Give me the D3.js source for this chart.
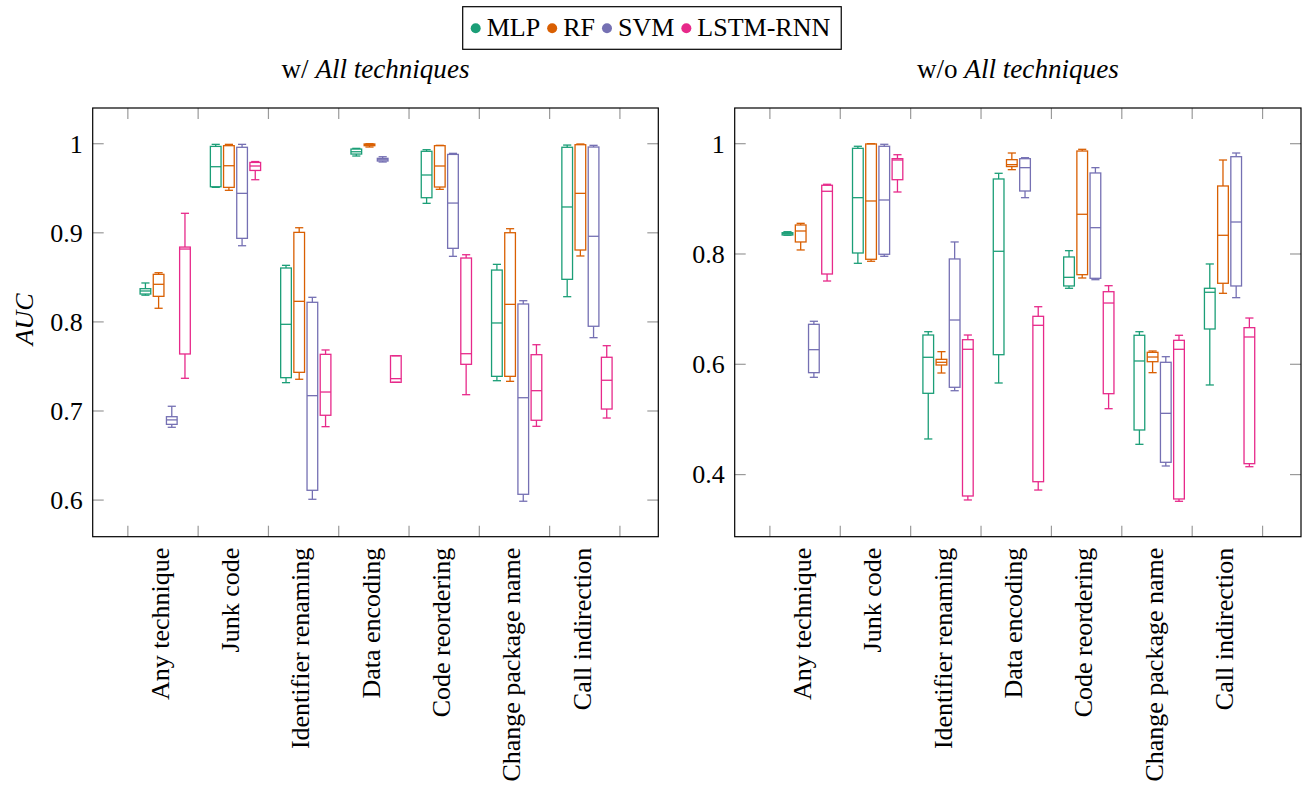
<!DOCTYPE html>
<html>
<head>
<meta charset="utf-8">
<script src="https://cdn.jsdelivr.net/npm/d3@7"></script>
<style>
  body { margin: 0; background: #fff; }
  svg { display: block; font-family: "Liberation Serif", "Times New Roman", serif; }
  .it { font-family: "Liberation Serif", "Times New Roman", serif; font-style: italic; }
</style>
</head>
<body>
<svg id="chart" width="1307" height="796"></svg>
<script>
// ---------------- DATA ----------------
const categories = ["Any technique", "Junk code", "Identifier renaming", "Data encoding",
                    "Code reordering", "Change package name", "Call indirection"];
const models = ["MLP", "RF", "SVM", "LSTM-RNN"];
const modelColors = ["#1b9e77", "#d95f02", "#7570b3", "#e7298a"];

// each entry: [lower whisker, Q1, median, Q3, upper whisker]
const mlpWith = [
  [0.830, 0.8313, 0.8347, 0.8373, 0.8437],
  [0.951, 0.9517, 0.9742, 0.997, 0.9993],
  [0.7318, 0.7374, 0.7973, 0.8605, 0.8635],
  [0.9862, 0.9884, 0.991, 0.994, 0.9948],
  [0.9331, 0.9394, 0.9649, 0.9915, 0.9933],
  [0.734, 0.7389, 0.7988, 0.8582, 0.8646],
  [0.8283, 0.8478, 0.929, 0.996, 0.9985]
];
const rfWith = [
  [0.8153, 0.8287, 0.8422, 0.8534, 0.8552],
  [0.9477, 0.951, 0.9753, 0.9978, 0.9993],
  [0.7356, 0.7434, 0.8231, 0.9005, 0.9057],
  [0.9963, 0.9978, 0.9989, 0.9997, 1.0],
  [0.9488, 0.9514, 0.975, 0.9978, 0.9982],
  [0.7333, 0.7389, 0.8197, 0.9001, 0.9046],
  [0.874, 0.8807, 0.9443, 0.9989, 0.9997]
];
const svmWith = [
  [0.6817, 0.685, 0.69, 0.6936, 0.7053],
  [0.8855, 0.8938, 0.9443, 0.996, 0.9993],
  [0.6009, 0.611, 0.7172, 0.822, 0.8276],
  [0.9795, 0.9806, 0.982, 0.9836, 0.9854],
  [0.8736, 0.8826, 0.9334, 0.988, 0.9892],
  [0.5987, 0.6065, 0.7149, 0.8201, 0.8238],
  [0.7823, 0.7951, 0.8961, 0.9963, 0.9982]
];
const lstmWith = [
  [0.7367, 0.764, 0.8818, 0.884, 0.9219],
  [0.9596, 0.970, 0.975, 0.979, 0.980],
  [0.6824, 0.6952, 0.7213, 0.7636, 0.7685],
  [0.7322, 0.7322, 0.7363, 0.762, 0.762],
  [0.7183, 0.7524, 0.7643, 0.8717, 0.8754],
  [0.6828, 0.6896, 0.7228, 0.7632, 0.7744],
  [0.6921, 0.7022, 0.7345, 0.7603, 0.7733]
];

const mlpWithout = [
  [0.834, 0.8345, 0.8368, 0.8386, 0.8404],
  [0.7831, 0.8018, 0.9021, 0.9916, 0.9953],
  [0.4646, 0.5474, 0.6127, 0.6531, 0.6591],
  [0.5661, 0.6174, 0.8049, 0.936, 0.9463],
  [0.7378, 0.742, 0.7577, 0.7946, 0.806],
  [0.4549, 0.4809, 0.606, 0.6526, 0.6591],
  [0.5625, 0.664, 0.7306, 0.7378, 0.7819]
];
const rfWithout = [
  [0.8073, 0.8218, 0.8417, 0.8526, 0.8556],
  [0.7868, 0.7904, 0.8961, 0.9995, 1.0],
  [0.5842, 0.5987, 0.6036, 0.609, 0.6229],
  [0.9529, 0.9585, 0.962, 0.971, 0.9831],
  [0.7565, 0.7625, 0.872, 0.9867, 0.9898],
  [0.5848, 0.6047, 0.6132, 0.6217, 0.6241],
  [0.7287, 0.7469, 0.8339, 0.9233, 0.9704]
];
const svmWithout = [
  [0.5764, 0.5848, 0.6265, 0.6725, 0.678],
  [0.7958, 0.7995, 0.8979, 0.9953, 0.9989],
  [0.5521, 0.5583, 0.6803, 0.791, 0.8218],
  [0.9021, 0.9142, 0.9565, 0.9728, 0.9746],
  [0.7534, 0.7559, 0.8477, 0.9469, 0.9565],
  [0.4156, 0.4223, 0.5111, 0.6036, 0.6138],
  [0.7208, 0.742, 0.858, 0.9764, 0.9831]
];
const lstmWithout = [
  [0.751, 0.7637, 0.9137, 0.9246, 0.9264],
  [0.9124, 0.9347, 0.9704, 0.9728, 0.98],
  [0.354, 0.3612, 0.6272, 0.6446, 0.6531],
  [0.372, 0.3871, 0.6707, 0.687, 0.7044],
  [0.5195, 0.5467, 0.7111, 0.7316, 0.7425],
  [0.3516, 0.3558, 0.6272, 0.6435, 0.6526],
  [0.4143, 0.4198, 0.6495, 0.6664, 0.6839]
];

const yTicksWith = [0.6, 0.7, 0.8, 0.9, 1];
const yTicksWithout = [0.4, 0.6, 0.8, 1];
const yDomainWith = [0.5589, 1.0401];
const yDomainWithout = [0.2874, 1.0647];

// ---------------- LAYOUT ----------------
const svg = d3.select("#chart");
const FONT = 26;
const plotTop = 108, plotBottom = 536.7;
const panels = [
  { left: 92.7, right: 658.3, titleA: "w/ ", series: [mlpWith, rfWith, svmWith, lstmWith],
    yDomain: yDomainWith, yTicks: yTicksWith, yLabel: true, titleWidth: 188 },
  { left: 734.7, right: 1301, titleA: "w/o ", series: [mlpWithout, rfWithout, svmWithout, lstmWithout],
    yDomain: yDomainWithout, yTicks: yTicksWithout, yLabel: false, titleWidth: 202 }
];
const xDomain = [0, 8.046];
const boxOffsets = [-0.25, -0.0625, 0.125, 0.3125];
const boxHalf = 0.076, capHalf = 0.058;
const tickLen = 11;
const tickColor = "#9a9a9a";
const fmt = v => (v === 1 ? "1" : d3.format(".1f")(v));

panels.forEach(p => {
  const x = d3.scaleLinear().domain(xDomain).range([p.left, p.right]);
  const y = d3.scaleLinear().domain(p.yDomain).range([plotBottom, plotTop]);
  const g = svg.append("g");

  // ticks
  const xt = d3.range(0.5, 8, 1);
  g.selectAll(".xtT").data(xt).enter().append("line")
    .attr("x1", d => x(d)).attr("x2", d => x(d)).attr("y1", plotTop).attr("y2", plotTop + tickLen)
    .attr("stroke", tickColor).attr("stroke-width", 1.2);
  g.selectAll(".xtB").data(xt).enter().append("line")
    .attr("x1", d => x(d)).attr("x2", d => x(d)).attr("y1", plotBottom).attr("y2", plotBottom - tickLen)
    .attr("stroke", tickColor).attr("stroke-width", 1.2);
  g.selectAll(".ytL").data(p.yTicks).enter().append("line")
    .attr("x1", p.left).attr("x2", p.left + tickLen).attr("y1", d => y(d)).attr("y2", d => y(d))
    .attr("stroke", tickColor).attr("stroke-width", 1.2);
  g.selectAll(".ytR").data(p.yTicks).enter().append("line")
    .attr("x1", p.right).attr("x2", p.right - tickLen).attr("y1", d => y(d)).attr("y2", d => y(d))
    .attr("stroke", tickColor).attr("stroke-width", 1.2);

  // y tick labels
  g.selectAll(".ylab").data(p.yTicks).enter().append("text")
    .attr("x", p.left - 10).attr("y", d => y(d)).attr("dy", "0.34em")
    .attr("text-anchor", "end").attr("font-size", FONT).attr("fill", "#000")
    .text(fmt);

  // category labels
  g.selectAll(".cat").data(categories).enter().append("text")
    .attr("transform", (d, i) => `translate(${x(i + 1)},${plotBottom + 11}) rotate(-90)`)
    .attr("dy", "0.22em")
    .attr("text-anchor", "end").attr("font-size", FONT).attr("fill", "#000")
    .text(d => d);

  // boxes
  p.series.forEach((ser, si) => {
    const col = modelColors[si];
    const sg = g.append("g").attr("stroke", col).attr("fill", "none").attr("stroke-width", 1.3);
    ser.forEach((d, ci) => {
      const c = ci + 1 + boxOffsets[si];
      const [lo, q1, med, q3, hi] = d;
      sg.append("line").attr("x1", x(c)).attr("x2", x(c)).attr("y1", y(q3)).attr("y2", y(hi));
      sg.append("line").attr("x1", x(c)).attr("x2", x(c)).attr("y1", y(q1)).attr("y2", y(lo));
      sg.append("line").attr("x1", x(c - capHalf)).attr("x2", x(c + capHalf)).attr("y1", y(hi)).attr("y2", y(hi));
      sg.append("line").attr("x1", x(c - capHalf)).attr("x2", x(c + capHalf)).attr("y1", y(lo)).attr("y2", y(lo));
      sg.append("rect").attr("x", x(c - boxHalf)).attr("y", y(q3))
        .attr("width", x(c + boxHalf) - x(c - boxHalf)).attr("height", Math.max(0.5, y(q1) - y(q3)));
      sg.append("line").attr("x1", x(c - boxHalf)).attr("x2", x(c + boxHalf)).attr("y1", y(med)).attr("y2", y(med));
    });
  });

  // frame
  g.append("rect").attr("x", p.left).attr("y", plotTop).attr("width", p.right - p.left).attr("height", plotBottom - plotTop)
    .attr("fill", "none").attr("stroke", "#000").attr("stroke-width", 1.2);

  // title
  const t = g.append("text").attr("x", (p.left + p.right) / 2).attr("y", 77.5)
    .attr("text-anchor", "middle").attr("font-size", FONT).attr("fill", "#000");
  t.append("tspan").text(p.titleA);
  t.append("tspan").attr("class", "it").text("All techniques");
  const tw = t.node().getComputedTextLength();
  const fs = Math.min(30, Math.max(24, FONT * p.titleWidth / tw));
  t.attr("font-size", fs);

  if (p.yLabel) {
    const a = g.append("text").attr("class", "it")
      .attr("transform", `translate(33,${(plotTop + plotBottom) / 2 - 3}) rotate(-90)`)
      .attr("text-anchor", "middle").attr("font-size", FONT)
      .attr("fill", "#000").text("AUC");
  }
});

// ---------------- LEGEND ----------------
const lg = svg.append("g");
const lgBox = lg.append("rect").attr("fill", "#fff").attr("stroke", "#000").attr("stroke-width", 1.2);
let cx = 470.7;
models.forEach((m, i) => {
  lg.append("circle").attr("cx", cx + 5).attr("cy", 28.3).attr("r", 5).attr("fill", modelColors[i]);
  const tx = lg.append("text").attr("x", cx + 16).attr("y", 35.5).attr("font-size", FONT).attr("fill", "#000").text(m);
  const w = tx.node().getComputedTextLength();
  cx = cx + 16 + w + 7;
});
lgBox.attr("x", 462.7).attr("y", 6.7).attr("width", cx + 4 - 462.7).attr("height", 42.6);
</script>
</body>
</html>
